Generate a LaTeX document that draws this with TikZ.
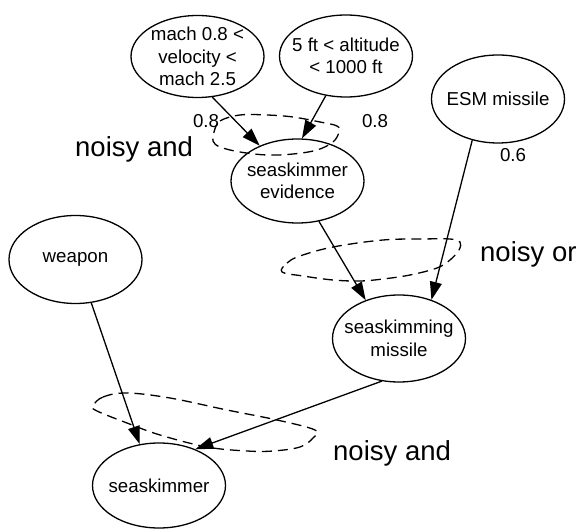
\documentclass[tikz,border=0pt]{standalone}
\usepackage{fontspec}
\setmainfont{Liberation Sans}
\usetikzlibrary{shapes.geometric,arrows.meta}
\begin{document}
\begin{tikzpicture}[x=1pt,y=-1pt,
  var/.style={ellipse,draw,line width=1.3pt,minimum width=133pt,minimum height=88pt,
    inner xsep=-12pt,inner ysep=-8pt,align=center,font=\fontsize{18.7}{22.5}\selectfont},
  edge/.style={line width=1.3pt,-{Triangle[length=18pt,width=12pt]}},
  grp/.style={line width=1.3pt,dash pattern=on 10pt off 6pt},
  num/.style={inner sep=0pt,font=\fontsize{18.7}{22.5}\selectfont},
  big/.style={inner sep=0pt,anchor=base west,font=\fontsize{27.5}{33}\selectfont}]
\useasboundingbox (0,0) rectangle (582,529);

\node[var,minimum height=82pt] (mach) at (197.5,56.5) {mach 0.8 <\\velocity <\\mach 2.5};
\node[var,minimum height=82pt] (alt) at (346,56) {5 ft < altitude\\< 1000 ft};
\node[var] (esm) at (498,99) {ESM missile};
\node[var,minimum height=84pt] (evid) at (297.5,181) {seaskimmer\\evidence};
\node[var] (weapon) at (75.5,259.5) {weapon};
\node[var,minimum height=87pt] (smiss) at (399,338.5) {seaskimming\\missile};
\node[var,minimum height=85pt] (skim) at (159,485.5) {seaskimmer};

\draw[edge] (mach.-70) -- (evid.137);
\draw[edge] (alt.-117) -- (evid.84);
\draw[edge] (esm.-122) -- (smiss.50);
\draw[edge] (evid.-62) -- (smiss.131);
\draw[edge] (weapon.-70) -- (skim.115);
\draw[edge] (smiss.-112) -- (skim.45);

\draw[grp] plot[smooth cycle,tension=0.6] coordinates {
  (214,132) (220,121) (240,115) (267,115) (293,117) (320,122) (337,126) (339,132)
  (333,142) (317,150) (293,154) (267,155) (240,152) (220,147) (213,141)};
\draw[grp] plot[smooth cycle,tension=0.6] coordinates {
  (282,272) (287,263) (300,256) (333,247) (383,240) (423,239) (450,239) (460,242)
  (459,250) (450,260) (437,268) (410,275) (383,279) (360,281) (333,280) (303,276)};
\draw[grp] plot[smooth cycle,tension=0.6] coordinates {
  (93,406) (103,397) (127,393) (170,398) (227,410) (277,420) (315,430) (313,438)
  (300,447) (273,451) (247,451) (207,447) (160,435) (127,423) (97,411)};

\node[num] (p1) at (206,121) {0.8};
\node[num] (p2) at (375,121) {0.8};
\node[num] (p3) at (513,155) {0.6};

\node[big] (l1) at (75,157) {noisy and};
\node[big] (l2) at (480,262) {noisy or};
\node[big] (l3) at (333,461) {noisy and};
\end{tikzpicture}
\end{document}
